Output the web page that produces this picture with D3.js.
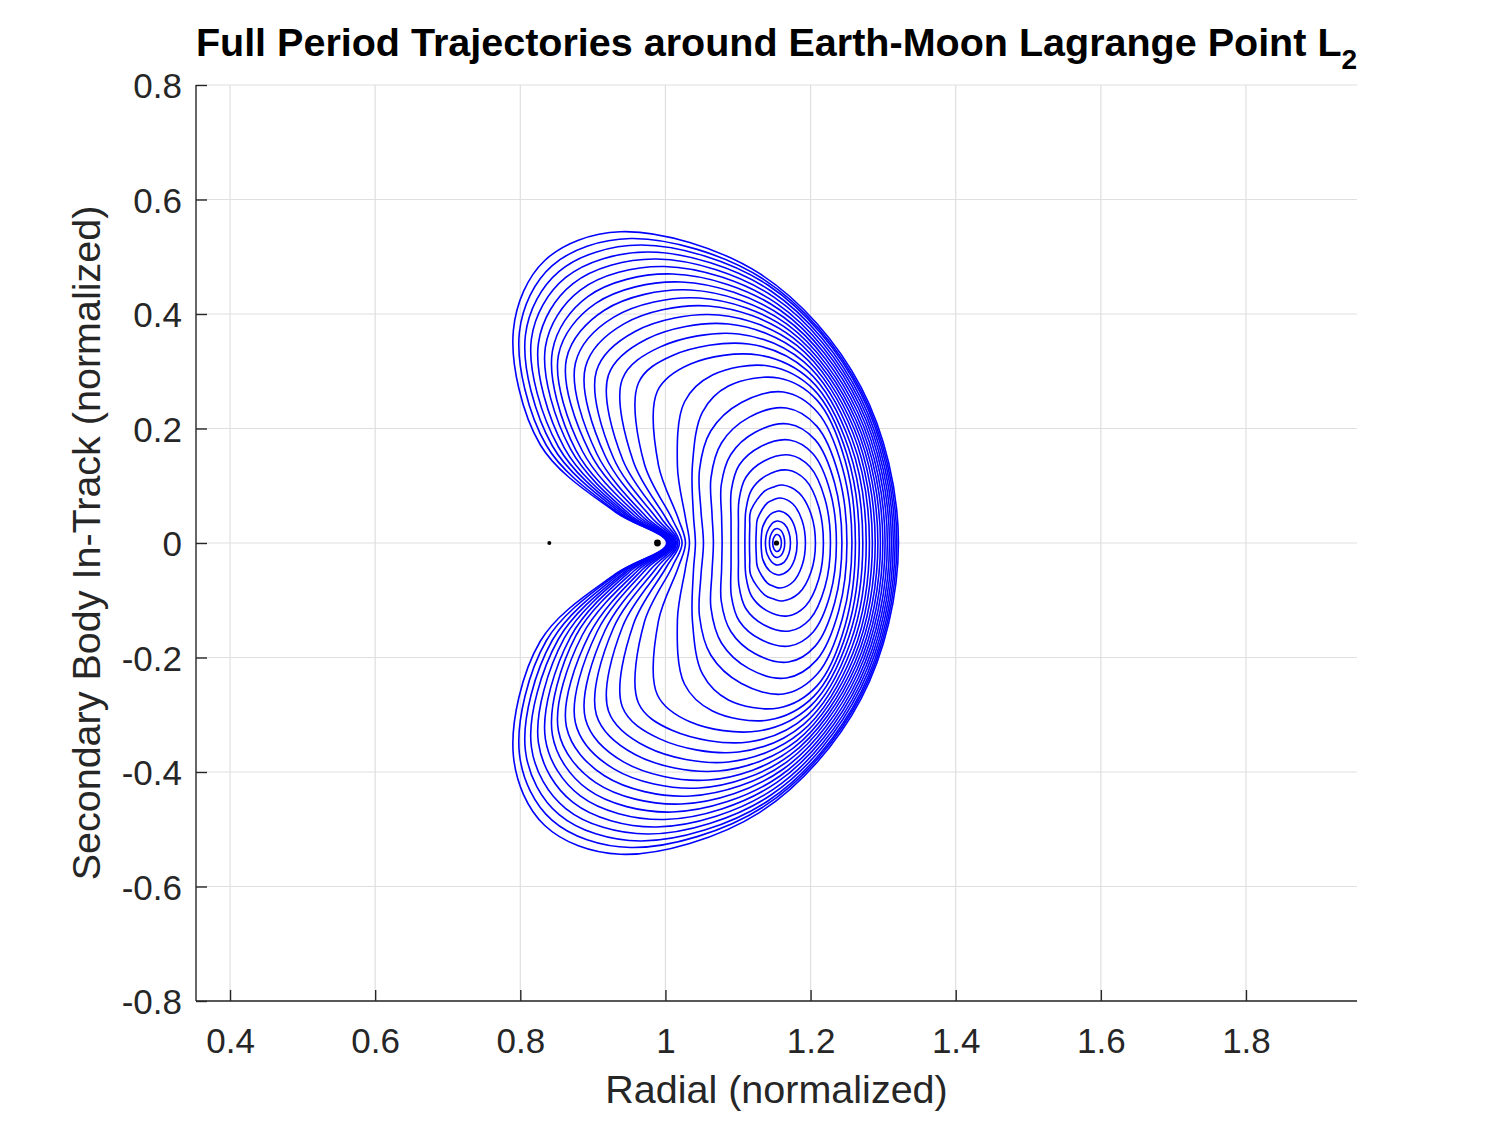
<!DOCTYPE html>
<html><head><meta charset="utf-8">
<script src="https://cdn.jsdelivr.net/npm/d3@7"></script>
<style>body{margin:0;background:#fff}</style></head>
<body>
<svg id="chart" width="1500" height="1125"></svg>
<script>
// ---- axis ticks ----
const xTicks = [0.4, 0.6, 0.8, 1.0, 1.2, 1.4, 1.6, 1.8];
const xTickLabels = ["0.4", "0.6", "0.8", "1", "1.2", "1.4", "1.6", "1.8"];
const yTicks = [-0.8, -0.6, -0.4, -0.2, 0, 0.2, 0.4, 0.6, 0.8];
const yTickLabels = ["-0.8", "-0.6", "-0.4", "-0.2", "0", "0.2", "0.4", "0.6", "0.8"];

// ---- orbit family: key points of the upper half of each orbit (normalized units),
//      ordered from the right x-axis crossing round to the left crossing; lower half mirrors it ----
const rightX = [1.1598,1.1644,1.1723,1.1815,1.1929,1.2067,1.2177,1.2274,1.2356,1.2432,1.2501,1.2570,1.2618,1.2671,1.2720,1.2767,1.2811,1.2852,1.2891,1.2928,1.2963,1.2996,1.3027,1.3058,1.3087,1.3114,1.3140,1.3165,1.3189,1.3211];
const leftX = [1.1479,1.1433,1.1378,1.1319,1.1247,1.1158,1.1095,1.1005,1.0905,1.0781,1.0661,1.0524,1.0413,1.0331,1.0276,1.0230,1.0193,1.0172,1.0152,1.0138,1.0124,1.0110,1.0096,1.0083,1.0069,1.0059,1.0048,1.0039,1.0028,1.0018];
const flankLowX = [1.1590,1.1630,1.1700,1.1782,1.1883,1.2006,1.2111,1.2198,1.2270,1.2333,1.2389,1.2438,1.2476,1.2502,1.2527,1.2549,1.2569,1.2587,1.2602,1.2615,1.2628,1.2640,1.2651,1.2661,1.2672,1.2680,1.2689,1.2695,1.2697,1.2697];
const flankLowY = [0.0074,0.0127,0.0192,0.0280,0.0393,0.0507,0.0638,0.0769,0.0900,0.1039,0.1179,0.1319,0.1441,0.1546,0.1642,0.1738,0.1825,0.1913,0.1991,0.2070,0.2140,0.2210,0.2279,0.2349,0.2414,0.2480,0.2541,0.2603,0.2658,0.2718];
const flankHighX = [1.1569,1.1592,1.1637,1.1691,1.1757,1.1840,1.1929,1.1991,1.2033,1.2064,1.2085,1.2095,1.2088,1.2045,1.2001,1.1955,1.1909,1.1860,1.1811,1.1761,1.1716,1.1670,1.1625,1.1578,1.1536,1.1495,1.1454,1.1411,1.1353,1.1295];
const flankHighY = [0.0128,0.0219,0.0333,0.0484,0.0681,0.0877,0.1104,0.1331,0.1558,0.1801,0.2042,0.2285,0.2496,0.2678,0.2844,0.3010,0.3162,0.3314,0.3450,0.3584,0.3707,0.3827,0.3948,0.4070,0.4182,0.4295,0.4402,0.4506,0.4606,0.4709];
const topX = [1.1539,1.1539,1.1550,1.1567,1.1585,1.1612,1.1681,1.1709,1.1709,1.1695,1.1667,1.1626,1.1557,1.1419,1.1282,1.1144,1.1006,1.0868,1.0730,1.0593,1.0469,1.0345,1.0220,1.0096,0.9986,0.9876,0.9766,0.9656,0.9518,0.9380];
const topY = [0.0148,0.0253,0.0384,0.0559,0.0786,0.1013,0.1275,0.1537,0.1799,0.2079,0.2358,0.2638,0.2882,0.3092,0.3284,0.3476,0.3651,0.3825,0.3982,0.4140,0.4279,0.4419,0.4559,0.4699,0.4830,0.4961,0.5083,0.5205,0.5319,0.5438];
const cornerX = [1.1523,1.1512,1.1505,1.1503,1.1497,1.1493,1.1396,1.1360,1.1309,1.1237,1.1151,1.1047,1.0868,1.0648,1.0345,1.0099,0.9922,0.9744,0.9581,0.9428,0.9289,0.9159,0.9039,0.8930,0.8827,0.8726,0.8626,0.8535,0.8436,0.8337];
const cornerY = [0.0143,0.0244,0.0371,0.0540,0.0759,0.0979,0.1181,0.1432,0.1682,0.1935,0.2194,0.2454,0.2742,0.2934,0.3127,0.3276,0.3421,0.3564,0.3695,0.3828,0.3946,0.4066,0.4185,0.4305,0.4418,0.4531,0.4638,0.4744,0.4841,0.4935];
const lobeX = [1.1509,1.1486,1.1464,1.1437,1.1405,1.1370,1.1186,1.1107,1.1017,1.0901,1.0772,1.0624,1.0510,1.0262,0.9890,0.9628,0.9407,0.9215,0.9049,0.8898,0.8760,0.8636,0.8526,0.8443,0.8346,0.8250,0.8153,0.8071,0.7988,0.7905];
const lobeY = [0.0128,0.0219,0.0333,0.0490,0.0700,0.0910,0.0926,0.1144,0.1362,0.1546,0.1747,0.1956,0.2288,0.2463,0.2655,0.2795,0.2865,0.2934,0.3004,0.3074,0.3144,0.3214,0.3284,0.3354,0.3424,0.3493,0.3563,0.3633,0.3686,0.3721];
const neck1X = [1.1487,1.1447,1.1401,1.1342,1.1268,1.1175,1.1109,1.1014,1.0909,1.0769,1.0627,1.0469,1.0372,1.0165,0.9904,0.9710,0.9560,0.9413,0.9284,0.9170,0.9056,0.8955,0.8855,0.8765,0.8691,0.8608,0.8526,0.8443,0.8360,0.8277];
const neck1Y = [0.0074,0.0127,0.0192,0.0290,0.0420,0.0560,0.0576,0.0751,0.0926,0.1013,0.1135,0.1275,0.1362,0.1345,0.1362,0.1380,0.1415,0.1450,0.1485,0.1520,0.1555,0.1589,0.1607,0.1624,0.1642,0.1659,0.1677,0.1694,0.1703,0.1712];
const neck2X = [1.1481,1.1437,1.1384,1.1324,1.1252,1.1162,1.1097,1.1006,1.0904,1.0774,1.0641,1.0489,1.0386,1.0276,1.0179,1.0096,1.0014,0.9945,0.9876,0.9807,0.9738,0.9683,0.9628,0.9573,0.9518,0.9476,0.9435,0.9394,0.9352,0.9311];
const neck2Y = [0.0038,0.0066,0.0099,0.0150,0.0215,0.0280,0.0262,0.0314,0.0402,0.0454,0.0524,0.0576,0.0489,0.0437,0.0419,0.0410,0.0419,0.0428,0.0437,0.0445,0.0454,0.0463,0.0472,0.0480,0.0489,0.0498,0.0507,0.0515,0.0524,0.0541];

// ---- marked bodies / points ----
const markerNames = ["L1", "Moon", "L2"];
const markerX = [0.840, 0.989, 1.153];
const markerY = [0, 0, 0];
const markerR = [2.0, 3.4, 2.6];

// ---- build ----
const svg = d3.select("#chart");
const pL = 196, pR = 1357, pT = 85, pB = 1001;
const x = d3.scaleLinear().domain([0.3531, 1.953]).range([pL, pR]);
const y = d3.scaleLinear().domain([-0.8, 0.8]).range([pB, pT]);
const FONT = "'Liberation Sans', Arial, Helvetica, sans-serif";
const AX = "#262626";

// grid
const grid = svg.append("g");
grid.selectAll("line.vx").data(xTicks).enter().append("line")
  .attr("x1", d => x(d)).attr("x2", d => x(d)).attr("y1", pT).attr("y2", pB)
  .attr("stroke", "#dfdfdf").attr("stroke-width", 1.2);
grid.selectAll("line.hy").data(yTicks).enter().append("line")
  .attr("x1", pL).attr("x2", pR).attr("y1", d => y(d)).attr("y2", d => y(d))
  .attr("stroke", "#dfdfdf").attr("stroke-width", 1.2);

// orbits
const orbits = rightX.map((r, i) => {
  const upper = [
    [r, 0], [flankLowX[i], flankLowY[i]], [flankHighX[i], flankHighY[i]], [topX[i], topY[i]],
    [cornerX[i], cornerY[i]], [lobeX[i], lobeY[i]], [neck1X[i], neck1Y[i]],
    [neck2X[i], neck2Y[i]], [leftX[i], 0]
  ];
  const lower = upper.slice(1, -1).reverse().map(p => [p[0], -p[1]]);
  return upper.concat(lower);
});
const line = d3.line().x(d => x(d[0])).y(d => y(d[1])).curve(d3.curveCatmullRomClosed.alpha(0.5));
svg.append("g").selectAll("path").data(orbits).enter().append("path")
  .attr("d", line).attr("fill", "none").attr("stroke", "#0000ff").attr("stroke-width", 1.6);

// markers
svg.append("g").selectAll("circle").data(markerX).enter().append("circle")
  .attr("cx", d => x(d)).attr("cy", (d, i) => y(markerY[i])).attr("r", (d, i) => markerR[i])
  .attr("fill", "#000");

// axes
const xAxis = d3.axisBottom(x).tickValues(xTicks).tickSize(-11).tickPadding(0)
  .tickFormat((d, i) => xTickLabels[i]);
const gx = svg.append("g").attr("transform", `translate(0,${pB})`).call(xAxis);
gx.select(".domain").attr("stroke", AX).attr("stroke-width", 1.4).attr("d", `M${pL},0H${pR}`);
gx.selectAll(".tick line").attr("stroke", AX).attr("stroke-width", 1.4);
gx.selectAll(".tick text").attr("fill", AX).attr("font-family", FONT).attr("font-size", 35)
  .attr("y", 52).attr("dy", null);

const yAxis = d3.axisLeft(y).tickValues(yTicks).tickSize(-11).tickPadding(0)
  .tickFormat((d, i) => yTickLabels[i]);
const gy = svg.append("g").attr("transform", `translate(${pL},0)`).call(yAxis);
gy.select(".domain").attr("stroke", AX).attr("stroke-width", 1.4).attr("d", `M0,${pT}V${pB}`);
gy.selectAll(".tick line").attr("stroke", AX).attr("stroke-width", 1.4);
gy.selectAll(".tick text").attr("fill", AX).attr("font-family", FONT).attr("font-size", 35)
  .attr("x", -14).attr("dy", "0.36em");
svg.selectAll(".domain").attr("fill", "none");

// labels
svg.append("text").attr("x", (pL + pR) / 2).attr("y", 1103).attr("text-anchor", "middle")
  .attr("font-family", FONT).attr("font-size", 39.5).attr("fill", AX).text("Radial (normalized)");
svg.append("text").attr("transform", `translate(100,${(pT + pB) / 2}) rotate(-90)`)
  .attr("text-anchor", "middle").attr("font-family", FONT).attr("font-size", 39.5).attr("fill", AX)
  .text("Secondary Body In-Track (normalized)");
const title = svg.append("text").attr("x", (pL + pR) / 2).attr("y", 56).attr("text-anchor", "middle")
  .attr("font-family", FONT).attr("font-size", 39.5).attr("font-weight", "bold").attr("fill", "#000");
title.append("tspan").text("Full Period Trajectories around Earth-Moon Lagrange Point L");
title.append("tspan").attr("font-size", 28).attr("dy", 13).text("2");
</script>
</body></html>
